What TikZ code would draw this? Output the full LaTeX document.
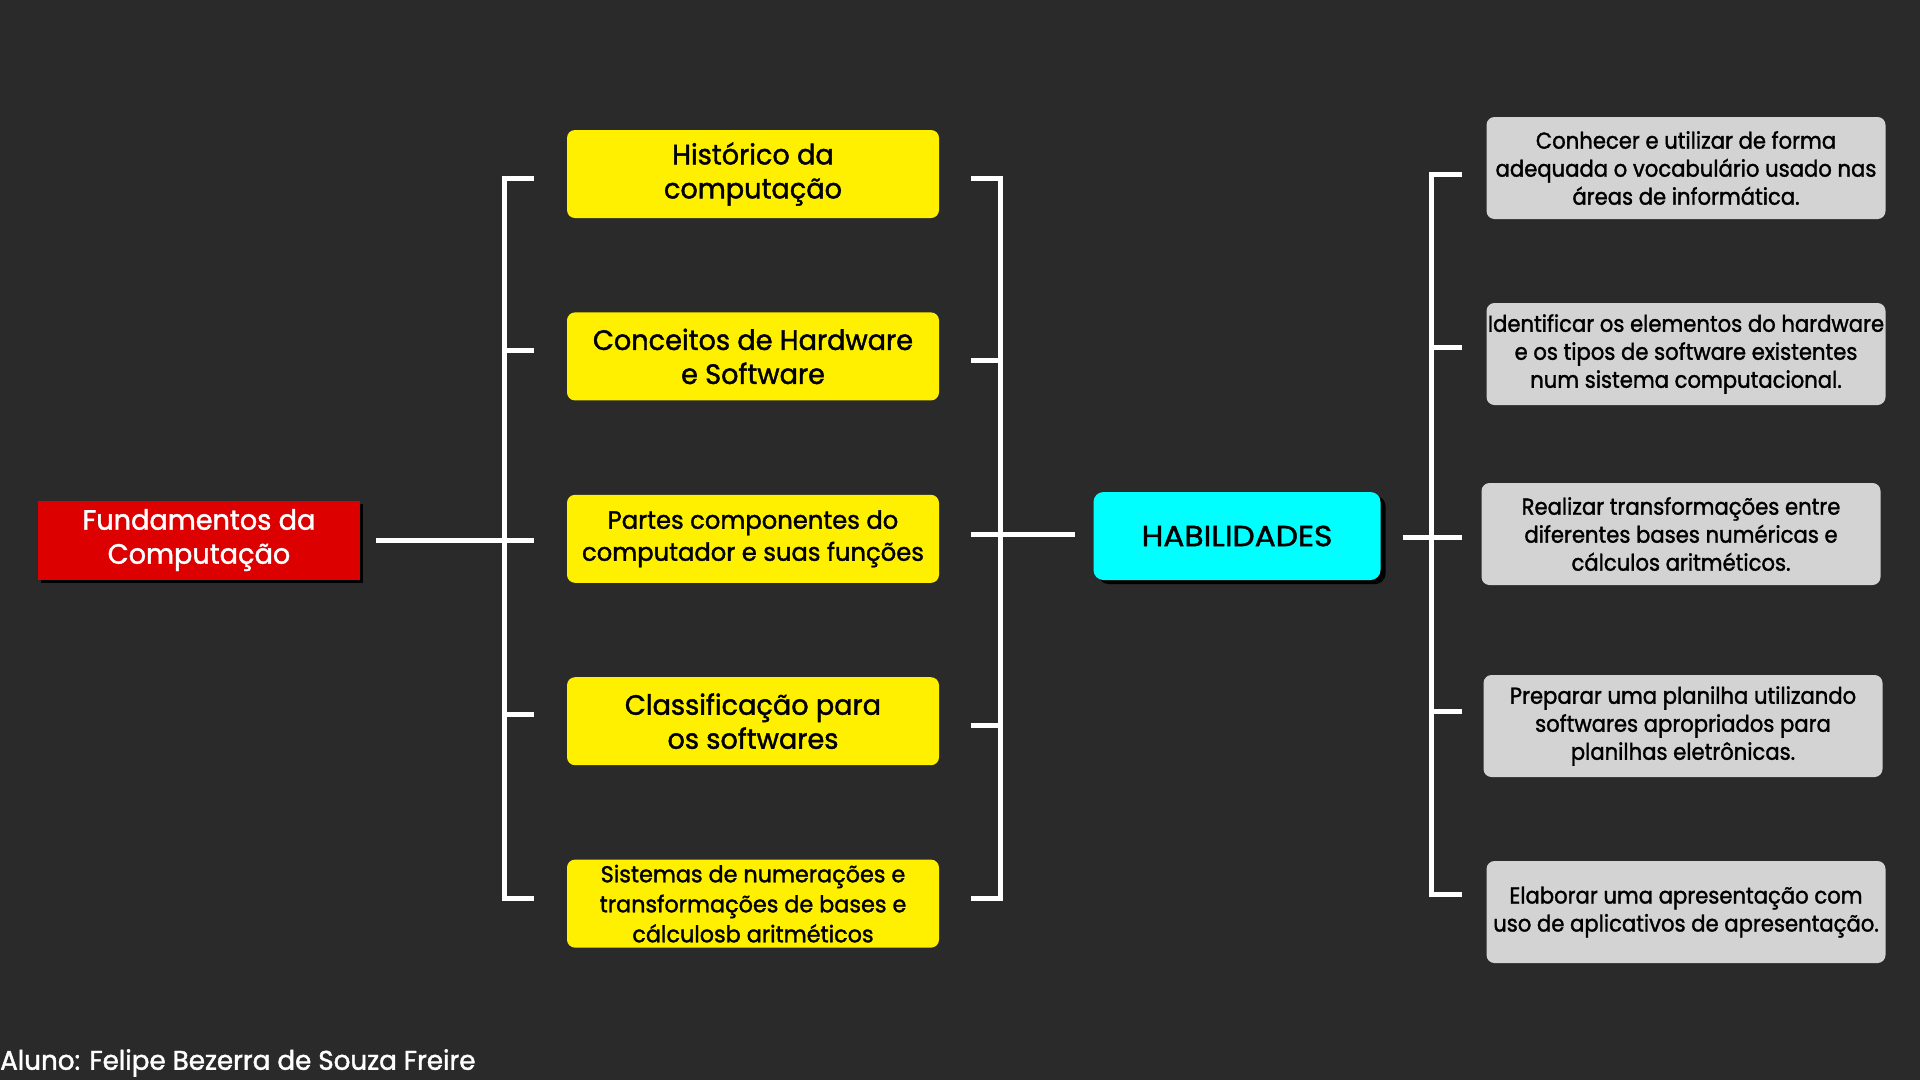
\documentclass[tikz,border=0pt]{standalone}
\usepackage{fontspec}
\setmainfont{Poppins}[FakeStretch=0.97, FakeBold=1.5]
\newfontfamily\fontemeta{Poppins}[FakeStretch=0.92, FakeBold=1.5]
\newfontfamily\fontecentro{Poppins}[FakeStretch=1.08, FakeBold=1.5]
\usepackage{xcolor}
\usetikzlibrary{positioning, shadows}

\definecolor{fundo}{HTML}{2A2A2A}
\definecolor{amarelo}{HTML}{FFF000}
\definecolor{cinza}{HTML}{D3D3D3}
\definecolor{vermelho}{HTML}{DD0000}
\definecolor{ciano}{HTML}{00FFFF}

\begin{document}
\begin{tikzpicture}[
    x=1pt, y=-1pt,
    node distance=94pt,
    raiz/.style={rectangle, fill=vermelho, text=white, minimum width=322pt, minimum height=79pt, inner sep=0pt, align=center, font=\fontsize{28}{34}\selectfont, drop shadow={shadow xshift=3pt, shadow yshift=-3pt, fill=black, opacity=1}},
    topico/.style={rectangle, rounded corners=8pt, fill=amarelo, minimum width=372pt, minimum height=88pt, inner sep=0pt, align=center, font=\fontsize{28}{34}\selectfont},
    central/.style={rectangle, rounded corners=10pt, fill=ciano, minimum width=287pt, minimum height=88pt, inner sep=0pt, align=center, font=\fontecentro\fontsize{29}{34}\selectfont, drop shadow={shadow xshift=5pt, shadow yshift=-4pt, fill=black, opacity=1}},
    meta/.style={rectangle, rounded corners=8pt, fill=cinza, minimum width=399pt, minimum height=102pt, inner sep=0pt, align=center, font=\fontemeta\fontsize{23}{28}\selectfont},
    linha/.style={draw=white, line width=5pt}
]

% Fundo
\fill[fundo] (0,0) rectangle (1920,1080);
\useasboundingbox (0,0) rectangle (1920,1080);

% Tema
\node[raiz] (raiz) at (199,540) {Fundamentos da\\Computação};

% Conteudos
\node[topico] (t1) at (753,174) {Histórico da\\computação};
\node[topico, below=of t1] (t2) {Conceitos de Hardware\\e Software};
\node[topico, below=of t2, font=\fontsize{25}{32}\selectfont] (t3) {Partes componentes do\\computador e suas funções};
\node[topico, below=of t3] (t4) {Classificação para\\os softwares};
\node[topico, below=of t4, font=\fontsize{23}{30}\selectfont] (t5) {Sistemas de numerações e\\transformações de bases e\\cálculosb aritméticos};

% Centro
\node[central] (hab) at (1237,536) {HABILIDADES};

% Habilidades
\node[meta] (g1) at (1686,168) {Conhecer e utilizar de forma\\adequada o vocabulário usado nas\\áreas de informática.};
\node[meta] (g2) at (1686,354) {Identificar os elementos do hardware\\e os tipos de software existentes\\num sistema computacional.};
\node[meta] (g3) at (1681,534) {Realizar transformações entre\\diferentes bases numéricas e\\cálculos aritméticos.};
\node[meta] (g4) at (1683,726) {Preparar uma planilha utilizando\\softwares apropriados para\\planilhas eletrônicas.};
\node[meta] (g5) at (1686,912) {Elaborar uma apresentação com\\uso de aplicativos de apresentação.};

% Aluno
\node[anchor=west, inner sep=0pt, text=white, font=\fontsize{27}{32}\selectfont] (aluno) at (0,1063) {Aluno: Felipe Bezerra de Souza Freire};

% Chave esquerda
\foreach \y [count=\i] in {178,350,540,714,898}
    \coordinate (ce\i) at (534,\y);
\draw[linha] (ce1) -- ++(-30,0) |- (ce5);
\draw[linha] (ce2) -- ++(-30,0);
\draw[linha] (ce4) -- ++(-30,0);
\draw[linha] ([xshift=16pt]raiz.east) -- (ce3);

% Chave do meio
\foreach \y [count=\i] in {178,360,534,725,898}
    \coordinate (cm\i) at (971,\y);
\draw[linha] (cm1) -- ++(29,0) |- (cm5);
\draw[linha] (cm2) -- ++(29,0);
\draw[linha] (cm4) -- ++(29,0);
\draw[linha] (cm3) -- ([xshift=-18pt]hab.west |- cm3);

% Chave direita
\foreach \y [count=\i] in {174,347,537,711,894}
    \coordinate (cd\i) at (1462,\y);
\draw[linha] (cd1) -- ++(-31,0) |- (cd5);
\draw[linha] (cd2) -- ++(-31,0);
\draw[linha] (cd4) -- ++(-31,0);
\draw[linha] ([xshift=22pt]hab.east |- cd3) -- (cd3);

\end{tikzpicture}
\end{document}
